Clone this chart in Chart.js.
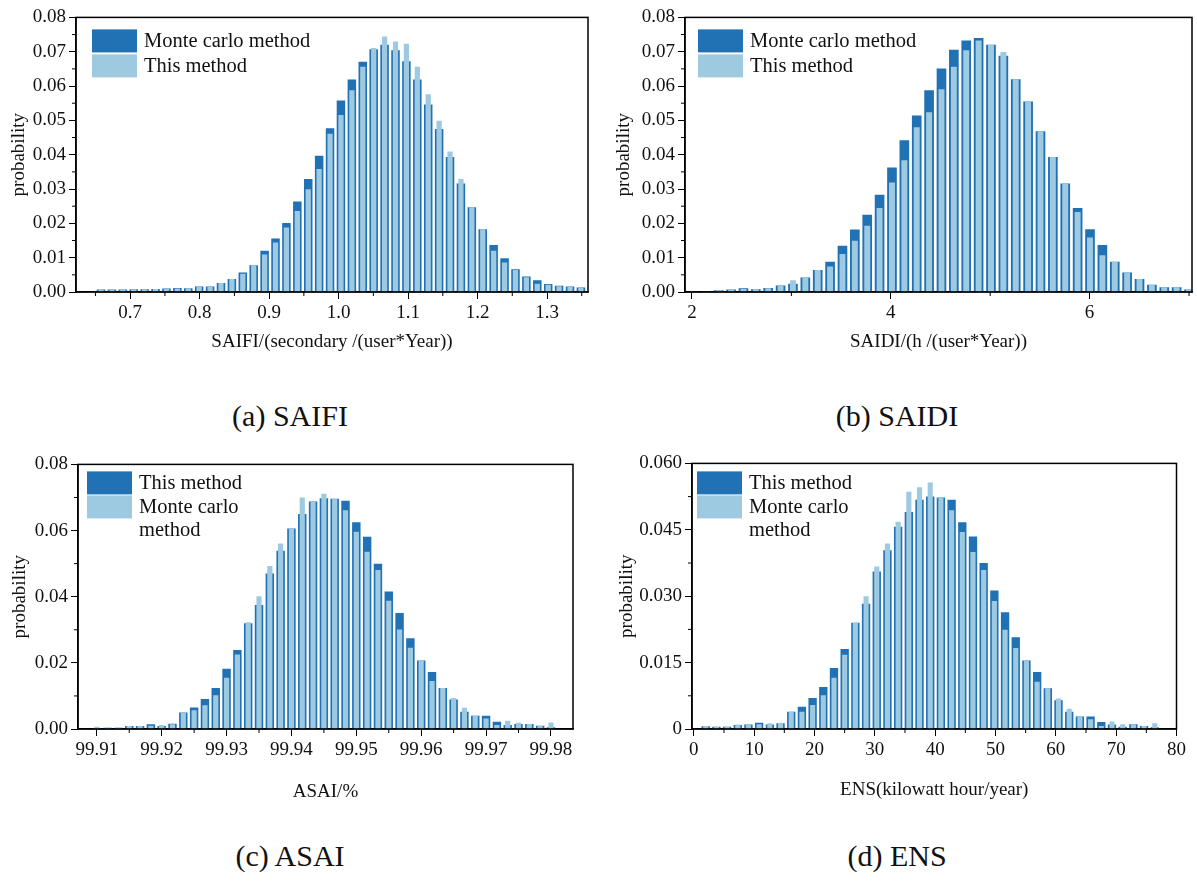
<!DOCTYPE html>
<html>
<head>
<meta charset="utf-8">
<script src="https://cdn.jsdelivr.net/npm/chart.js@4.4.1/dist/chart.umd.min.js"></script>
<style>
  body { margin: 0; background: #fff; width: 1197px; height: 881px; position: relative; overflow: hidden;
         font-family: "Liberation Serif", "Times New Roman", serif; }
  canvas { position: absolute; }
  .cap { position: absolute; font-size: 30px; color: #111; transform: translate(-50%, -50%); white-space: nowrap; }
</style>
</head>
<body>
<canvas id="chartA"></canvas>
<canvas id="chartB"></canvas>
<canvas id="chartC"></canvas>
<canvas id="chartD"></canvas>
<div class="cap" style="left:290px;top:416px">(a) SAIFI</div>
<div class="cap" style="left:897px;top:416px">(b) SAIDI</div>
<div class="cap" style="left:290px;top:856px">(c) ASAI</div>
<div class="cap" style="left:897px;top:856px">(d) ENS</div>
<script>
// histogram bins: first bin centre, bin width
const saifiBins = [0.658, 0.0157];
const saidiBins = [2.02, 0.1245];
const asaiBins = [99.91, 0.0016667];
const ensBins = [1.97, 1.772];

// (a) SAIFI
const saifiMonteCarlo = [0.0007,0.0007,0.0007,0.0008,0.0008,0.0009,0.0010,0.0012,0.0011,0.0016,
  0.0016,0.0026,0.0038,0.0057,0.0078,0.0120,0.0156,0.0201,0.0264,0.0329,
  0.0397,0.0477,0.0558,0.0619,0.0671,0.0707,0.0720,0.0704,0.0672,0.0619,
  0.0546,0.0475,0.0393,0.0316,0.0247,0.0183,0.0137,0.0098,0.0066,0.0045,
  0.0034,0.0023,0.0018,0.0016,0.0013];
const saifiThis = [0.0007,0.0007,0.0007,0.0008,0.0008,0.0009,0.0009,0.0010,0.0011,0.0015,
  0.0016,0.0026,0.0038,0.0053,0.0078,0.0109,0.0144,0.0188,0.0236,0.0299,
  0.0358,0.0461,0.0516,0.0588,0.0656,0.0711,0.0744,0.0730,0.0723,0.0656,
  0.0576,0.0499,0.0409,0.0329,0.0247,0.0183,0.0120,0.0086,0.0064,0.0043,
  0.0024,0.0021,0.0017,0.0015,0.0012];

// (b) SAIDI
const saidiMonteCarlo = [0.0002,0.0001,0.0005,0.0007,0.0011,0.0008,0.0012,0.0019,0.0024,0.0042,
  0.0064,0.0088,0.0135,0.0182,0.0225,0.0283,0.0363,0.0442,0.0514,0.0588,
  0.0651,0.0706,0.0733,0.0740,0.0720,0.0688,0.0620,0.0555,0.0468,0.0393,
  0.0316,0.0245,0.0183,0.0137,0.0088,0.0057,0.0038,0.0021,0.0014,0.0014,
  0.0007];
const saidiThis = [0.0002,0.0001,0.0005,0.0007,0.0009,0.0008,0.0011,0.0018,0.0034,0.0042,
  0.0064,0.0074,0.0111,0.0149,0.0193,0.0245,0.0319,0.0384,0.0480,0.0524,
  0.0591,0.0656,0.0704,0.0733,0.0720,0.0699,0.0620,0.0555,0.0468,0.0393,
  0.0316,0.0233,0.0159,0.0107,0.0088,0.0057,0.0038,0.0021,0.0014,0.0014,
  0.0007];

// (c) ASAI
const asaiThis = [0.0003,0.0004,0.0004,0.0009,0.0009,0.0014,0.0009,0.0016,0.0050,0.0065,
  0.0091,0.0124,0.0182,0.0239,0.0320,0.0375,0.0470,0.0539,0.0606,0.0650,
  0.0688,0.0698,0.0696,0.0690,0.0625,0.0581,0.0500,0.0416,0.0351,0.0274,
  0.0207,0.0172,0.0124,0.0089,0.0052,0.0040,0.0040,0.0022,0.0012,0.0015,
  0.0015,0.0010,0.0005];
const asaiMonteCarlo = [0.0007,0.0004,0.0004,0.0009,0.0009,0.0010,0.0012,0.0014,0.0050,0.0057,
  0.0072,0.0102,0.0155,0.0225,0.0323,0.0401,0.0493,0.0561,0.0606,0.0700,
  0.0688,0.0711,0.0696,0.0661,0.0596,0.0536,0.0481,0.0388,0.0301,0.0246,
  0.0207,0.0145,0.0124,0.0094,0.0064,0.0040,0.0032,0.0012,0.0025,0.0019,
  0.0015,0.0010,0.0020];

// (d) ENS
const ensThis = [0.0006,0.0005,0.0005,0.0009,0.0010,0.0014,0.0010,0.0013,0.0039,0.0050,
  0.0070,0.0095,0.0138,0.0181,0.0240,0.0283,0.0356,0.0404,0.0457,0.0490,
  0.0518,0.0525,0.0523,0.0518,0.0467,0.0435,0.0375,0.0313,0.0264,0.0207,
  0.0155,0.0129,0.0092,0.0065,0.0039,0.0028,0.0028,0.0016,0.0010,0.0005,
  0.0011,0.0007,0.0004];
const ensMonteCarlo = [0.0007,0.0005,0.0005,0.0010,0.0010,0.0011,0.0013,0.0014,0.0039,0.0039,
  0.0054,0.0076,0.0116,0.0168,0.0240,0.0300,0.0367,0.0419,0.0468,0.0536,
  0.0546,0.0557,0.0523,0.0494,0.0445,0.0400,0.0359,0.0289,0.0224,0.0183,
  0.0155,0.0107,0.0092,0.0069,0.0046,0.0028,0.0022,0.0007,0.0017,0.0011,
  0.0011,0.0007,0.0013];

// tick labels
const saifiXTicks = ['0.7','0.8','0.9','1.0','1.1','1.2','1.3'];
const saidiXTicks = ['2','4','6'];
const asaiXTicks = ['99.91','99.92','99.93','99.94','99.95','99.96','99.97','99.98'];
const ensXTicks = ['0','10','20','30','40','50','60','70','80'];
const probTicks01 = ['0.00','0.01','0.02','0.03','0.04','0.05','0.06','0.07','0.08'];
const probTicks02 = ['0.00','0.02','0.04','0.06','0.08'];
const probTicksEns = ['0','0.015','0.030','0.045','0.060'];

const DARK = '#2171b5';
const LIGHT = '#9ecae1';
const FONT = '"Liberation Serif", "Times New Roman", serif';

function binCenters(bins, n) {
  const out = [];
  for (let i = 0; i < n; i++) out.push(bins[0] + i * bins[1]);
  return out;
}

function wrapText(ctx, text, maxW) {
  const words = text.split(' ');
  const lines = [];
  let cur = '';
  words.forEach(w => {
    const t = cur ? cur + ' ' + w : w;
    if (cur && ctx.measureText(t).width > maxW) { lines.push(cur); cur = w; } else cur = t;
  });
  lines.push(cur);
  return lines;
}

// frame, minor ticks and the inset legend
const decorations = {
  id: 'decorations',
  afterDraw(chart, args, opts) {
    const ctx = chart.ctx;
    const a = chart.chartArea;
    ctx.save();
    ctx.strokeStyle = '#000';
    ctx.lineWidth = 1.5;
    ctx.strokeRect(a.left, a.top, a.right - a.left, a.bottom - a.top);
    ctx.lineWidth = 1;
    ['x', 'y'].forEach(id => {
      const s = chart.scales[id];
      const v = s.ticks.map(t => t.value);
      const half = (v[1] - v[0]) / 2;
      const minors = [];
      for (let i = 0; i < v.length; i++) minors.push(v[i] + half);
      minors.push(v[0] - half);
      minors.forEach(m => {
        if (m < s.min - 1e-9 || m > s.max + 1e-9) return;
        const p = s.getPixelForValue(m);
        ctx.beginPath();
        if (id === 'x') { ctx.moveTo(p, a.bottom); ctx.lineTo(p, a.bottom + 4); }
        else { ctx.moveTo(a.left, p); ctx.lineTo(a.left - 4, p); }
        ctx.stroke();
      });
    });
    // legend
    ctx.font = '20.5px ' + FONT;
    ctx.textBaseline = 'middle';
    let y = a.top + opts.dy;
    const x = a.left + opts.dx;
    chart.data.datasets.forEach(ds => {
      ctx.fillStyle = ds.backgroundColor;
      ctx.fillRect(x, y, 45, 23);
      ctx.fillStyle = '#111';
      wrapText(ctx, ds.label, opts.wrap).forEach((ln, k) => {
        ctx.fillText(ln, x + 52, y + 12 + k * 23);
      });
      y += opts.pitch;
    });
    ctx.restore();
  }
};

function histChart(id, g, o) {
  const cv = document.getElementById(id);
  const lh = 19 * 1.2;
  const left = g.L - 76, top = g.T - 12;
  const padRight = Math.min(6, 1196 - g.R);
  const xH = g.xTitleY + 16 - g.B;
  cv.width = g.R + padRight - left;
  cv.height = g.B + xH - top;
  cv.style.left = left + 'px';
  cv.style.top = top + 'px';
  const centers = binCenters(o.bins, o.dark.length);
  const xVals = o.xTicks.map(Number);
  const yVals = o.yTicks.map(Number);
  const tickFont = { family: FONT, size: 19 };
  return new Chart(cv, {
    type: 'bar',
    data: {
      datasets: [
        { label: o.darkLabel, data: centers.map((x, i) => ({ x, y: o.dark[i] })),
          backgroundColor: DARK, barPercentage: 0.78, categoryPercentage: 1, order: 2 },
        { label: o.lightLabel, data: centers.map((x, i) => ({ x, y: o.light[i] })),
          backgroundColor: LIGHT, barPercentage: 0.48, categoryPercentage: 1, order: 1 }
      ]
    },
    options: {
      responsive: false,
      animation: false,
      layout: { padding: { top: 12, right: padRight, left: 0, bottom: 0 } },
      datasets: { bar: { grouped: false } },
      plugins: {
        legend: { display: false },
        tooltip: { enabled: false },
        decorations: { dx: o.legendDx, dy: o.legendDy, pitch: o.legendPitch, wrap: o.legendWrap }
      },
      scales: {
        x: {
          type: 'linear', min: o.xMin, max: o.xMax, offset: false,
          afterBuildTicks: s => { s.ticks = xVals.map(v => ({ value: v })); },
          afterFit: s => { s.height = xH; },
          grid: { display: true, drawOnChartArea: false, drawTicks: true, tickLength: 7, color: '#000', offset: false },
          border: { display: true, color: '#000', width: 1.5 },
          ticks: { font: tickFont, color: '#111', padding: 3, autoSkip: false, maxRotation: 0,
                   callback: (v, i) => o.xTicks[i] },
          title: { display: true, text: o.xTitle, font: { family: FONT, size: 19 }, color: '#111',
                   padding: { top: 0, bottom: 16 - lh / 2 } }
        },
        y: {
          min: 0, max: yVals[yVals.length - 1],
          afterBuildTicks: s => { s.ticks = yVals.map(v => ({ value: v })); },
          afterFit: s => { s.width = 76; },
          grid: { display: true, drawOnChartArea: false, drawTicks: true, tickLength: 7, color: '#000' },
          border: { display: true, color: '#000', width: 1.5 },
          ticks: { font: tickFont, color: '#111', padding: 3, autoSkip: false,
                   callback: (v, i) => o.yTicks[i] },
          title: { display: true, text: 'probability', font: { family: FONT, size: 19 }, color: '#111',
                   padding: { top: Math.max(0, g.yTitleX - left - lh / 2), bottom: 0 } }
        }
      }
    },
    plugins: [decorations]
  });
}

histChart('chartA', { L: 76, T: 15, R: 588, B: 292, yTitleX: 19, xTitleY: 342 }, {
  bins: saifiBins, dark: saifiMonteCarlo, light: saifiThis,
  darkLabel: 'Monte carlo method', lightLabel: 'This method',
  xMin: 0.622, xMax: 1.359, xTicks: saifiXTicks, yTicks: probTicks01,
  xTitle: 'SAIFI/(secondary /(user*Year))',
  legendDx: 16, legendDy: 12, legendPitch: 25, legendWrap: 400
});

histChart('chartB', { L: 685, T: 15, R: 1192, B: 292, yTitleX: 624, xTitleY: 342 }, {
  bins: saidiBins, dark: saidiMonteCarlo, light: saidiThis,
  darkLabel: 'Monte carlo method', lightLabel: 'This method',
  xMin: 1.93, xMax: 7.03, xTicks: saidiXTicks, yTicks: probTicks01,
  xTitle: 'SAIDI/(h /(user*Year))',
  legendDx: 13, legendDy: 12, legendPitch: 25, legendWrap: 400
});

histChart('chartC', { L: 78, T: 462, R: 573, B: 729, yTitleX: 20, xTitleY: 792 }, {
  bins: asaiBins, dark: asaiThis, light: asaiMonteCarlo,
  darkLabel: 'This method', lightLabel: 'Monte carlo method',
  xMin: 99.9071, xMax: 99.9834, xTicks: asaiXTicks, yTicks: probTicks02,
  xTitle: 'ASAI/%',
  legendDx: 9, legendDy: 7, legendPitch: 24, legendWrap: 110
});

histChart('chartD', { L: 692, T: 461, R: 1183, B: 729, yTitleX: 626, xTitleY: 790 }, {
  bins: ensBins, dark: ensThis, light: ensMonteCarlo,
  darkLabel: 'This method', lightLabel: 'Monte carlo method',
  xMin: -0.3, xMax: 80, xTicks: ensXTicks, yTicks: probTicksEns,
  xTitle: 'ENS(kilowatt hour/year)',
  legendDx: 5, legendDy: 8, legendPitch: 24, legendWrap: 110
});
</script>
</body>
</html>
